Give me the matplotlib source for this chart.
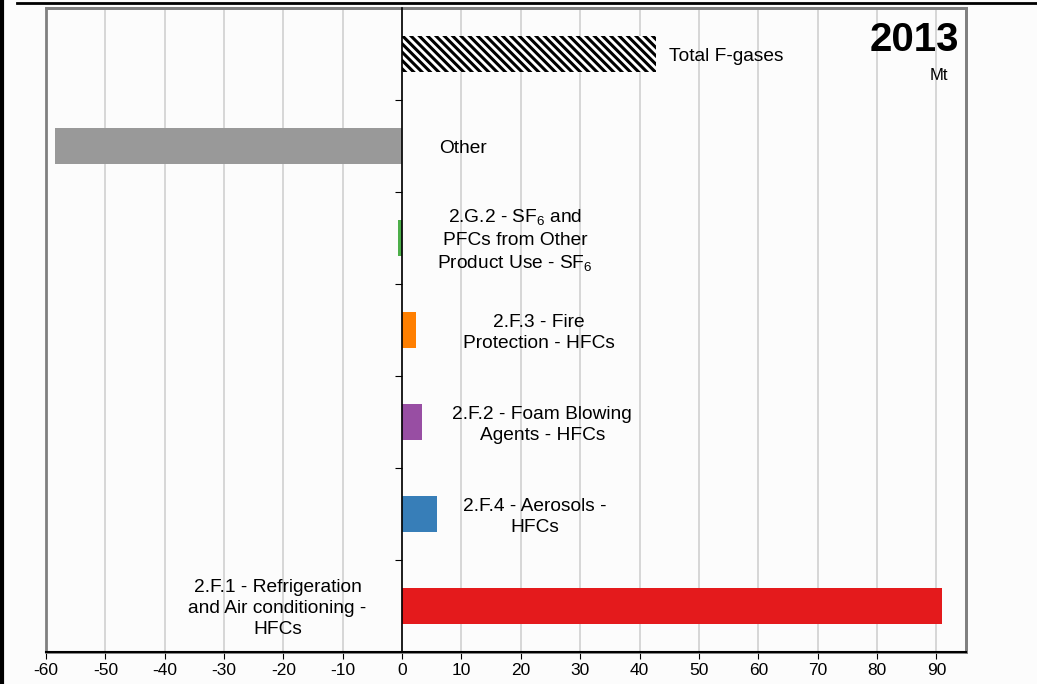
import matplotlib
matplotlib.use("Agg")
import matplotlib.pyplot as plt
from matplotlib.patches import Rectangle
from matplotlib.lines import Line2D

plt.rcParams['font.family'] = ['Liberation Sans', 'DejaVu Sans']
plt.rcParams['mathtext.fontset'] = 'custom'
plt.rcParams['mathtext.rm'] = 'Liberation Sans'
plt.rcParams['hatch.linewidth'] = 2.2

# data, top to bottom
labels = ['Total F-gases', 'Other',
          '2.G.2 - SF$_\\mathregular{6}$ and\nPFCs from Other\nProduct Use - SF$_\\mathregular{6}$',
          '2.F.3 - Fire\nProtection - HFCs',
          '2.F.2 - Foam Blowing\nAgents - HFCs',
          '2.F.4 - Aerosols -\nHFCs',
          '2.F.1 - Refrigeration\nand Air conditioning -\nHFCs']
values = [42.8, -58.5, -0.7, 2.3, 3.4, 5.8, 90.9]
colors = ['white', '#999999', '#4DAF4A', '#FF7F00', '#984EA3', '#377EB8', '#E41A1C']
# where each label sits (x in Mt) and how it is aligned
label_x = [45, 10.3, 19, 23, 23.6, 22.4, -21]
label_ha = ['left', 'center', 'center', 'center', 'center', 'center', 'center']
xticks = list(range(-60, 91, 10))
year = '2013'

fig = plt.figure(figsize=(10.37, 6.84), dpi=100)
fig.patch.set_facecolor('#FCFCFC')
ax = fig.add_axes([46 / 1037, 1 - 652 / 684, 920 / 1037, 644 / 684])
ax.set_facecolor('#FCFCFC')

for i, v in enumerate(values):
    if i == 0:
        ax.barh(i, v, height=0.4, color='white', edgecolor='black', hatch='\\\\\\\\', lw=0, zorder=3)
    else:
        ax.barh(i, v, height=0.4, color=colors[i], zorder=3)
    ax.text(label_x[i], i + 0.03, labels[i], ha=label_ha[i], va='center', fontsize=13.8,
            linespacing=1.3, zorder=4)

ax.set_xlim(-60, 95)
ax.set_ylim(6.5, -0.5)
ax.set_xticks(xticks)
ax.set_xticklabels([str(t) for t in xticks], fontsize=12.5)
ax.set_yticks([0.5, 1.5, 2.5, 3.5, 4.5, 5.5])
ax.set_yticklabels([])
ax.tick_params(axis='x', length=5, color='black', pad=3)
ax.tick_params(axis='y', length=5, color='black', direction='out')
ax.xaxis.grid(True, color='#D0D0D0', lw=1.2, zorder=0)
ax.set_axisbelow(True)

ax.spines['left'].set_position(('data', 0))
ax.spines['left'].set_color('black')
ax.spines['left'].set_linewidth(1.2)
ax.spines['left'].set_zorder(5)
ax.spines['bottom'].set_color('black')
ax.spines['bottom'].set_linewidth(1.5)
ax.spines['top'].set_color('#808080')
ax.spines['top'].set_linewidth(2)
ax.spines['right'].set_color('#808080')
ax.spines['right'].set_linewidth(2)
ax.add_patch(Rectangle((0, 0), 1, 1, transform=ax.transAxes, fill=False,
                       edgecolor='#808080', lw=2, clip_on=False, zorder=1))

ax.text(0.992, 0.950, year, transform=ax.transAxes, ha='right', va='center',
        fontsize=29, fontweight='bold')
ax.text(0.970, 0.895, 'Mt', transform=ax.transAxes, ha='center', va='center', fontsize=12)

# outer frame lines of the image
fig.add_artist(Line2D([0.002, 0.002], [0, 0.997], color='black', lw=3, transform=fig.transFigure))
fig.add_artist(Line2D([0.016, 1.0], [0.996, 0.996], color='black', lw=2, transform=fig.transFigure))

fig.savefig('out.png', dpi=100, facecolor=fig.get_facecolor())
